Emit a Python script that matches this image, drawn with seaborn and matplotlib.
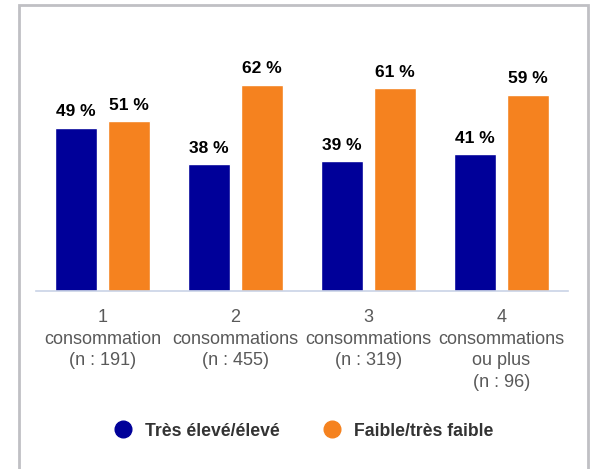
import pandas as pd
import seaborn as sns
import matplotlib.pyplot as plt
from matplotlib.patches import Rectangle
from matplotlib.lines import Line2D

# --- data ---
groups = ['1\nconsommation\n(n : 191)',
          '2\nconsommations\n(n : 455)',
          '3\nconsommations\n(n : 319)',
          '4\nconsommations\nou plus\n(n : 96)']
series = ['Très élevé/élevé', 'Faible/très faible']
high = [49, 38, 39, 41]
low = [51, 62, 61, 59]
colors = ['#000099', '#f5821f']

df = pd.DataFrame({
    'groupe': groups * 2,
    'serie': [series[0]] * 4 + [series[1]] * 4,
    'valeur': high + low,
})

sns.set_style('white')
plt.rcParams['font.family'] = ['Liberation Sans', 'DejaVu Sans']

fig = plt.figure(figsize=(5.92, 4.69), dpi=100)
ax = fig.add_axes([36 / 592, 1 - 291 / 469, 532 / 592, 70 * 3.33 / 469])

sns.barplot(data=df, x='groupe', y='valeur', hue='serie', palette=colors,
            width=0.8, gap=0.21, ax=ax, legend=False, saturation=1)

# value labels
for cont in ax.containers:
    ax.bar_label(cont, labels=[f'{v:.0f} %' for v in cont.datavalues],
                 padding=6, fontsize=12.5, fontweight='bold', color='#000000')

ax.set_xlim(-0.5, 3.5)
ax.set_ylim(0, 70)
ax.set_xlabel('')
ax.set_ylabel('')
ax.set_yticks([])
for s in ['top', 'right', 'left']:
    ax.spines[s].set_visible(False)
ax.spines['bottom'].set_color('#c9d3e6')
ax.spines['bottom'].set_linewidth(1.2)
ax.tick_params(axis='x', length=0, pad=13, labelsize=13, labelcolor='#595959')
for t in ax.get_xticklabels():
    t.set_linespacing(1.35)
    t.set_verticalalignment('top')

# legend
handles = [Line2D([0], [0], marker='o', linestyle='', markersize=12,
                  markerfacecolor=c, markeredgecolor=c) for c in colors]
fig.legend(handles, series, loc='center', bbox_to_anchor=(0.5 + 3 / 592, 1 - 431 / 469),
           ncol=2, frameon=False, handletextpad=0.25, columnspacing=1.95,
           prop={'weight': 'bold', 'size': 12.7})
for t in fig.legends[0].get_texts():
    t.set_color('#333333')

# outer frame
fig.patches.append(Rectangle((19 / 592, -0.05), 569 / 592, 1.05 - 5 / 469,
                             transform=fig.transFigure, fill=False,
                             edgecolor='#c0c0c4', linewidth=2))

fig.savefig('out.png', dpi=100)
